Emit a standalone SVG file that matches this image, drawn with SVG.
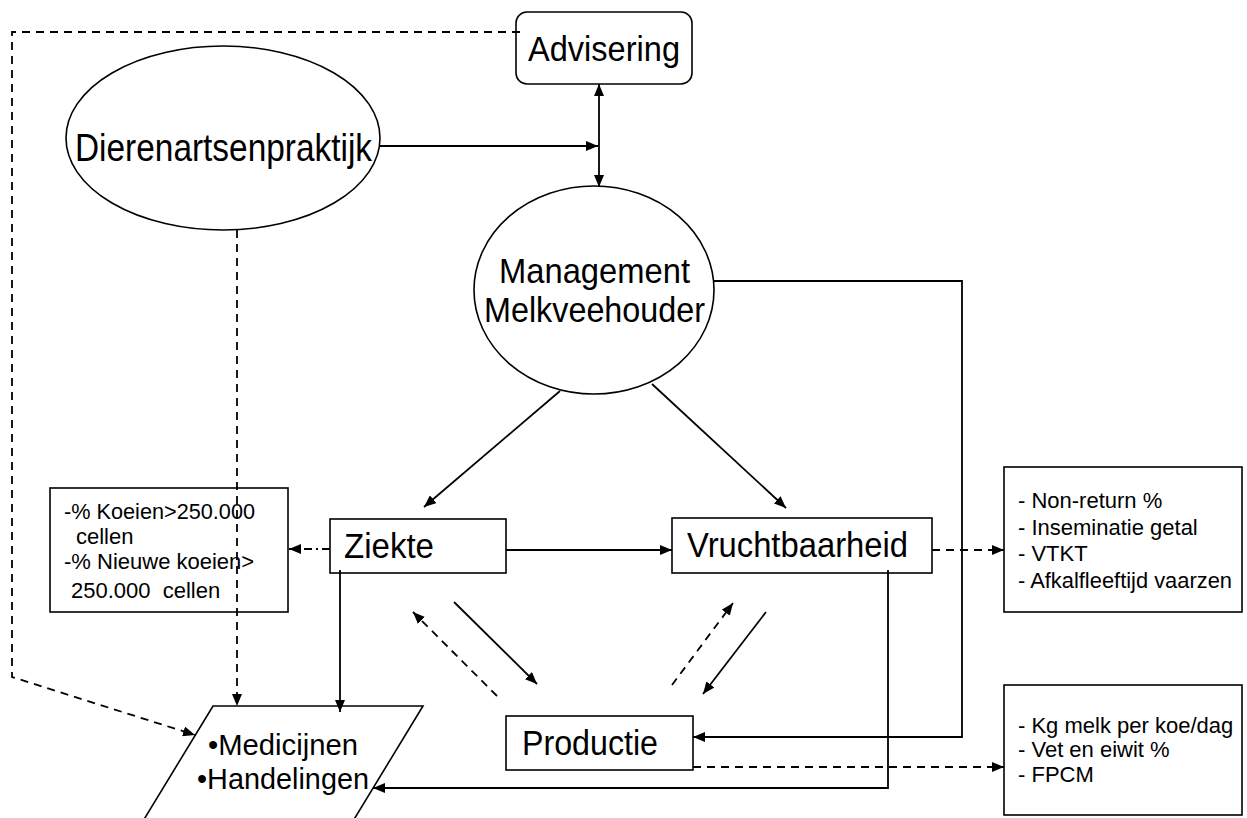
<svg xmlns="http://www.w3.org/2000/svg" width="1247" height="818" viewBox="0 0 1247 818">
<style>
.shape{fill:#fff;stroke:#000;stroke-width:1.6}
.big{font-family:"Liberation Sans",Arial,sans-serif;font-size:35px;fill:#000}
.mid{font-family:"Liberation Sans",Arial,sans-serif;font-size:30px;fill:#000}
.small{font-family:"Liberation Sans",Arial,sans-serif;font-size:22px;fill:#000}
.c{fill:none;stroke:#000;stroke-width:1.8}
.d{stroke-dasharray:8 6}
.dd{stroke-dasharray:8 4 2 4}
</style>
<defs>
<marker id="ah" viewBox="0 0 12 10" refX="12" refY="5" markerWidth="12" markerHeight="10" markerUnits="userSpaceOnUse" orient="auto-start-reverse">
<path d="M0,0 L12,5 L0,10 Z" fill="#000"/>
</marker>
</defs>
<rect width="1247" height="818" fill="#fff"/>
<g id="advisering">
<rect class="shape" x="516" y="12" width="176" height="72" rx="11"/>
<text class="big" x="528" y="61" textLength="152" lengthAdjust="spacingAndGlyphs">Advisering</text>
</g>
<g id="dierenartsenpraktijk">
<ellipse class="shape" cx="223" cy="138" rx="157" ry="92"/>
<text class="big" x="75" y="161" textLength="297" lengthAdjust="spacingAndGlyphs" style="font-size:39px">Dierenartsenpraktijk</text>
</g>
<g id="management">
<ellipse class="shape" cx="594" cy="290" rx="120" ry="104"/>
<text class="big" x="499" y="283" textLength="191" lengthAdjust="spacingAndGlyphs">Management</text>
<text class="big" x="484" y="322" textLength="221" lengthAdjust="spacingAndGlyphs">Melkveehouder</text>
</g>
<g id="ziekte">
<rect class="shape" x="330" y="519" width="176" height="54"/>
<text class="big" x="344" y="558" textLength="90" lengthAdjust="spacingAndGlyphs">Ziekte</text>
</g>
<g id="vruchtbaarheid">
<rect class="shape" x="672" y="518" width="260" height="55"/>
<text class="big" x="687" y="557" textLength="221" lengthAdjust="spacingAndGlyphs">Vruchtbaarheid</text>
</g>
<g id="productie">
<rect class="shape" x="506" y="716" width="187" height="54"/>
<text class="big" x="522" y="755" textLength="136" lengthAdjust="spacingAndGlyphs">Productie</text>
</g>
<g id="celgetal">
<rect class="shape" x="50" y="488" width="238" height="124"/>
<text class="small" x="64" y="519" textLength="191" lengthAdjust="spacingAndGlyphs">-% Koeien&gt;250.000</text>
<text class="small" x="76" y="544">cellen</text>
<text class="small" x="64" y="569">-% Nieuwe koeien&gt;</text>
<text class="small" x="71" y="598" xml:space="preserve">250.000  cellen</text>
</g>
<g id="vruchtbaarheid-kengetallen">
<rect class="shape" x="1004" y="467" width="238" height="145"/>
<text class="small" x="1018" y="508">- Non-return %</text>
<text class="small" x="1018" y="535">- Inseminatie getal</text>
<text class="small" x="1018" y="561">- VTKT</text>
<text class="small" x="1018" y="588" textLength="214" lengthAdjust="spacingAndGlyphs">- Afkalfleeftijd vaarzen</text>
</g>
<g id="productie-kengetallen">
<rect class="shape" x="1004" y="685" width="238" height="130"/>
<text class="small" x="1018" y="733">- Kg melk per koe/dag</text>
<text class="small" x="1018" y="757">- Vet en eiwit %</text>
<text class="small" x="1018" y="782">- FPCM</text>
</g>
<g id="medicijnen">
<polygon class="shape" points="213,706 423,706 350,826 140,826"/>
<text class="mid" x="208" y="755" textLength="150" lengthAdjust="spacingAndGlyphs">•Medicijnen</text>
<text class="mid" x="197" y="789" textLength="172" lengthAdjust="spacingAndGlyphs">•Handelingen</text>
</g>
<g id="connectors">
<line class="c" x1="599" y1="84" x2="599" y2="187" marker-start="url(#ah)" marker-end="url(#ah)"/>
<line class="c" x1="380" y1="146" x2="598" y2="146" marker-end="url(#ah)"/>
<line class="c d" x1="237" y1="230" x2="237" y2="706" marker-end="url(#ah)"/>
<path class="c d" d="M520,32 H12 V677 L195,735" marker-end="url(#ah)"/>
<line class="c" x1="560" y1="391" x2="424" y2="507" marker-end="url(#ah)"/>
<line class="c" x1="652" y1="384" x2="786" y2="508" marker-end="url(#ah)"/>
<path class="c" d="M714,281 H962 V737 H693" marker-end="url(#ah)"/>
<line class="c" x1="506" y1="550" x2="672" y2="550" marker-end="url(#ah)"/>
<line class="c dd" x1="330" y1="549" x2="289" y2="549" marker-end="url(#ah)"/>
<line class="c d" x1="932" y1="550" x2="1004" y2="550" marker-end="url(#ah)"/>
<line class="c" x1="340" y1="570" x2="340" y2="712" marker-end="url(#ah)"/>
<path class="c" d="M888,570 V788 H373" marker-end="url(#ah)"/>
<line class="c d" x1="693" y1="767" x2="1004" y2="767" marker-end="url(#ah)"/>
<line class="c" x1="454" y1="602" x2="537" y2="684" marker-end="url(#ah)"/>
<line class="c d" x1="497" y1="696" x2="413" y2="612" marker-end="url(#ah)"/>
<line class="c d" x1="672" y1="685" x2="733" y2="603" marker-end="url(#ah)"/>
<line class="c" x1="766" y1="612" x2="703" y2="694" marker-end="url(#ah)"/>
</g>
</svg>
